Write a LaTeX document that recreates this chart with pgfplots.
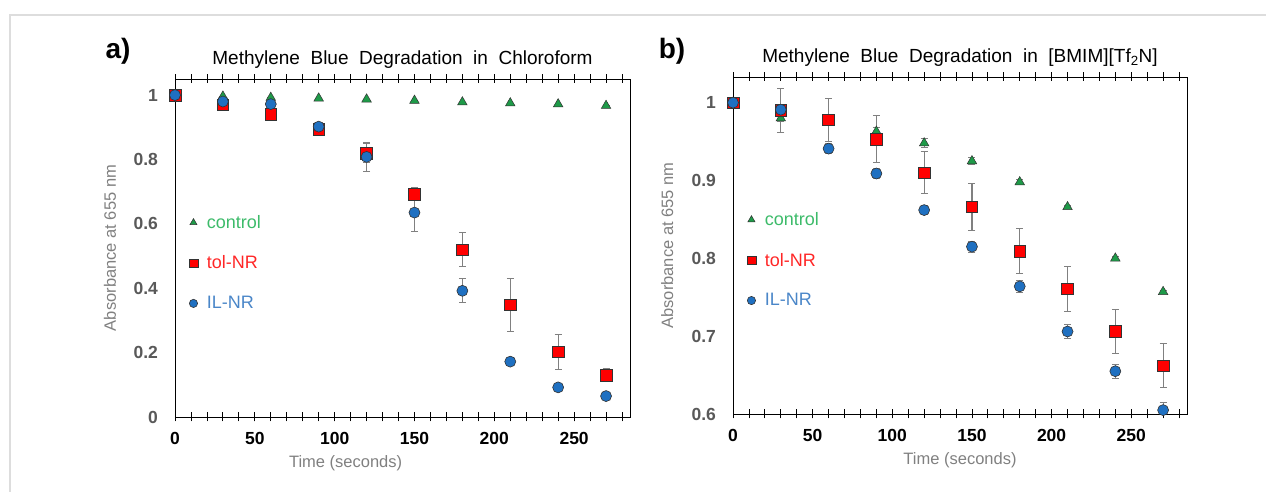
\documentclass[border=0pt]{standalone}
\usepackage{pgfplots}
\pgfplotsset{compat=1.18}
\usepackage{fontspec}
\setmainfont{Liberation Sans}

\definecolor{ctrlfill}{HTML}{1E9A48}
\definecolor{ctrltext}{HTML}{3DBB6A}
\definecolor{tolfill}{HTML}{FF0000}
\definecolor{toltext}{HTML}{FF2626}
\definecolor{ilfill}{HTML}{1F70C1}
\definecolor{iltext}{HTML}{4A86C8}
\definecolor{errgray}{HTML}{808080}
\definecolor{ticklab}{HTML}{595959}
\definecolor{axlab}{HTML}{808080}
\definecolor{framegray}{HTML}{DDDDDD}

% panel a: chloroform (x, y, error)
\pgfplotstableread{
x y e
0 1.000 0
30 0.996 0
60 0.992 0
90 0.990 0
120 0.987 0
150 0.983 0
180 0.978 0
210 0.975 0
240 0.972 0
270 0.967 0
}\actrl
\pgfplotstableread{
x y e
0 1.000 0.005
30 0.970 0.005
60 0.940 0.005
90 0.893 0.008
120 0.820 0.030
150 0.692 0.020
180 0.520 0.052
210 0.348 0.083
240 0.203 0.054
270 0.130 0.020
}\atol
\pgfplotstableread{
x y e
0 1.000 0.005
30 0.980 0.005
60 0.972 0.005
90 0.902 0.010
120 0.808 0.045
150 0.635 0.060
180 0.392 0.037
210 0.172 0.012
240 0.092 0.005
270 0.065 0.005
}\ail

% panel b: [BMIM][Tf2N]
\pgfplotstableread{
x y e
0 1.000 0
30 0.980 0.004
60 0.978 0.003
90 0.963 0.005
120 0.948 0.006
150 0.925 0.004
180 0.898 0.003
210 0.866 0.002
240 0.800 0.002
270 0.757 0.002
}\bctrl
\pgfplotstableread{
x y e
0 1.000 0.004
30 0.990 0.028
60 0.978 0.028
90 0.953 0.030
120 0.910 0.027
150 0.866 0.030
180 0.809 0.029
210 0.761 0.029
240 0.706 0.028
270 0.662 0.028
}\btol
\pgfplotstableread{
x y e
0 1.000 0.004
30 0.991 0.005
60 0.941 0.006
90 0.909 0.006
120 0.862 0.006
150 0.815 0.007
180 0.764 0.008
210 0.706 0.009
240 0.655 0.009
270 0.605 0.010
}\bil

\pgfplotsset{
  panel/.style={
    scale only axis,
    anchor=south west,
    xmin=0, xmax=285,
    xtick={0,50,...,250},
    minor xtick={10,20,...,280},
    tick align=center,
    major tick length=9pt,
    minor tick length=9pt,
    xtick style={black, line width=0.8pt},
    minor tick style={black, line width=0.8pt},
    ytick style={draw=none},
    axis line style={line width=0.9pt},
    /pgf/number format/assume math mode=true,
    xticklabel style={font=\bfseries\fontsize{17.5}{19}\selectfont, black, yshift=-7pt},
    yticklabel style={font=\bfseries\fontsize{17.5}{19}\selectfont, ticklab, xshift=-9pt},
    title style={font=\fontsize{19}{22}\selectfont, yshift=1pt},
    xlabel style={font=\fontsize{16.5}{19}\selectfont, axlab},
    ylabel style={font=\fontsize{16.5}{19}\selectfont, axlab},
    legend style={draw=none, fill=none, font=\fontsize{18}{21}\selectfont,
      row sep=22pt, anchor=west},
    legend cell align=left,
    legend image post style={scale=0.75},
    legend image code/.code={\draw[#1] plot coordinates {(0.25cm,0cm)};},
    error bars/y dir=both,
    error bars/y explicit,
    error bars/error bar style={errgray, line width=1.1pt},
    error bars/error mark options={rotate=90, errgray, mark size=3.5pt, line width=1pt},
  },
  ctrl/.style={only marks, mark=triangle*, mark size=5.5pt,
    mark options={fill=ctrlfill, draw=black!80, line width=0.5pt}},
  tol/.style={only marks, mark=square*, mark size=5.8pt,
    mark options={fill=tolfill, draw=black!80, line width=0.6pt}},
  il/.style={only marks, mark=*, mark size=5.5pt,
    mark options={fill=ilfill, draw=black!80, line width=0.6pt}},
}

\begin{document}
\begin{tikzpicture}
\useasboundingbox (0,0) rectangle (1266pt,492pt);
\draw[framegray, line width=1.5pt] (1266pt,477pt) -- (10pt,477pt) -- (10pt,0pt);

\node[font=\bfseries\fontsize{28}{30}\selectfont] at (118pt,441pt) {a)};
\node[font=\bfseries\fontsize{28}{30}\selectfont] at (672pt,441pt) {b)};

\begin{axis}[panel,
  at={(175pt,75pt)}, width=455pt, height=338pt,
  ymin=0, ymax=1.05,
  ytick={0,0.2,...,1},
  title={Methylene\ \ Blue\ \ Degradation\ \ in\ \ Chloroform},
  xlabel={Time (seconds)},
  xlabel style={at={(axis description cs:0.375,0)}, anchor=north, yshift=-35pt},
  ylabel={Absorbance at 655 nm},
  ylabel style={at={(axis description cs:-0.143,0.5)}, anchor=center},
  legend style={at={(axis description cs:0.024,0.456)}},
]
\addplot+[ctrl] table[x=x,y=y,y error=e] {\actrl};
\addlegendentry{\hspace{7pt}\textcolor{ctrltext}{control}}
\addplot+[tol] table[x=x,y=y,y error=e] {\atol};
\addlegendentry{\hspace{7pt}\textcolor{toltext}{tol-NR}}
\addplot+[il] table[x=x,y=y,y error=e] {\ail};
\addlegendentry{\hspace{7pt}\textcolor{iltext}{IL-NR}}
\end{axis}

\begin{axis}[panel,
  at={(733pt,78pt)}, width=454pt, height=337pt,
  ymin=0.6, ymax=1.033,
  ytick={0.6,0.7,...,1.0},
  title={Methylene\ \ Blue\ \ Degradation\ \ in\ \ [BMIM][Tf\textsubscript{2}N]},
  xlabel={Time (seconds)},
  xlabel style={at={(axis description cs:0.5,0)}, anchor=north, yshift=-35pt},
  ylabel={Absorbance at 655 nm},
  ylabel style={at={(axis description cs:-0.145,0.5)}, anchor=center},
  legend style={at={(axis description cs:0.024,0.457)}},
]
\addplot+[ctrl] table[x=x,y=y,y error=e] {\bctrl};
\addlegendentry{\hspace{7pt}\textcolor{ctrltext}{control}}
\addplot+[tol] table[x=x,y=y,y error=e] {\btol};
\addlegendentry{\hspace{7pt}\textcolor{toltext}{tol-NR}}
\addplot+[il] table[x=x,y=y,y error=e] {\bil};
\addlegendentry{\hspace{7pt}\textcolor{iltext}{IL-NR}}
\end{axis}
\end{tikzpicture}
\end{document}
